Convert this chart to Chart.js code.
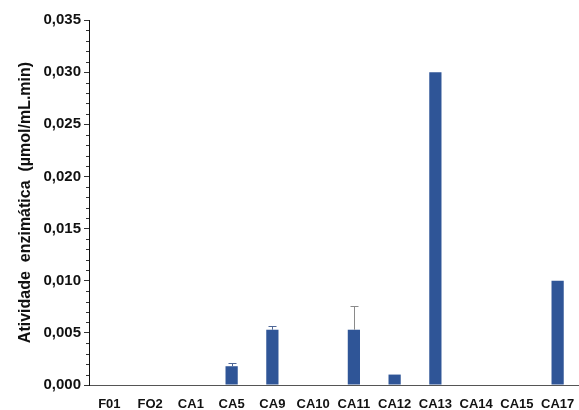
<!DOCTYPE html>
<html><head><meta charset="utf-8">
<script src="https://cdn.jsdelivr.net/npm/chart.js@4"></script>
<style>html,body{margin:0;padding:0;background:#fff}#wrap{width:579px;height:410px}</style>
</head><body><div id="wrap"><canvas id="c" width="579" height="410"></canvas></div>
<script>
const categories = ['F01','FO2','CA1','CA5','CA9','CA10','CA11','CA12','CA13','CA14','CA15','CA17'];
const activity = [0,0,0,0.0018,0.0053,0,0.0053,0.001,0.030,0,0,0.010];
const errorUp = [0,0,0,0.0003,0.0004,0,0.0023,0,0,0,0,0];
const yTitle = 'Atividade  enzimática  (µmol/mL.min)';

const errPlugin = {
  id:'err',
  afterDatasetsDraw(chart){
    const ctx = chart.ctx, ys = chart.scales.y;
    ctx.save();
    ctx.strokeStyle = '#333'; ctx.lineWidth = 1;
    for (let i = 0; i <= 35; i++) {
      if (i % 5 === 0) continue;
      const y = Math.round(ys.getPixelForValue(i/1000)) + 0.5;
      ctx.beginPath(); ctx.moveTo(chart.chartArea.left - 3, y); ctx.lineTo(chart.chartArea.left, y); ctx.stroke();
    }
    const meta = chart.getDatasetMeta(0);
    meta.data.forEach((bar, i) => {
      const e = errorUp[i];
      if (!e) return;
      const x = Math.round(bar.x) + 0.5;
      const y0 = ys.getPixelForValue(activity[i]);
      const y1 = Math.round(ys.getPixelForValue(activity[i] + e)) + 0.5;
      ctx.strokeStyle = i === 6 ? '#8a8a8a' : '#4f6796';
      ctx.beginPath(); ctx.moveTo(x, y0); ctx.lineTo(x, y1);
      ctx.moveTo(x - 4, y1); ctx.lineTo(x + 4, y1); ctx.stroke();
    });
    ctx.restore();
  }
};

new Chart(document.getElementById('c'), {
  type:'bar',
  data:{ labels:categories, datasets:[{ data:activity, backgroundColor:'#2F5597', borderWidth:0, barPercentage:0.3, categoryPercentage:1 }]},
  options:{
    responsive:false, animation:false,
    layout:{ padding:{ top:20, right:1, left:0, bottom:0 } },
    plugins:{ legend:{display:false}, tooltip:{enabled:false} },
    scales:{
      x:{
        grid:{ display:true, drawOnChartArea:false, drawTicks:true, tickLength:9, tickColor:'rgba(0,0,0,0)', color:'rgba(0,0,0,0)' },
        border:{ color:'#555', width:1 },
        ticks:{ color:'#111', font:{ family:'Liberation Sans, Arial', size:13, weight:'bold' }, padding:3, maxRotation:0, autoSkip:false },
        afterFit(s){ s.height = 25; }
      },
      y:{
        min:0, max:0.035,
        grid:{ drawOnChartArea:false, tickLength:5, color:'#333' },
        border:{ color:'#111', width:1 },
        ticks:{ stepSize:0.005, color:'#111', padding:3,
          font:{ family:'Liberation Sans, Arial', size:15, weight:'bold' },
          callback:(v)=> v.toFixed(3).replace('.', ',') },
        title:{ display:true, text:yTitle, color:'#111', font:{ family:'Liberation Sans, Arial', size:16, weight:'bold' }, padding:{ top:16, bottom:0 } },
        afterFit(s){ s.width = 89; }
      }
    }
  },
  plugins:[errPlugin]
});
</script></body></html>
